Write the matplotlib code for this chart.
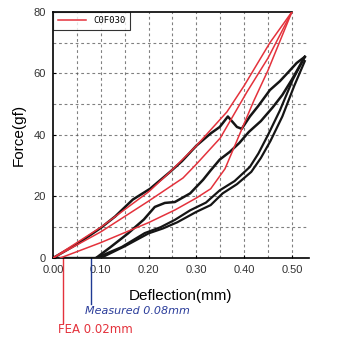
import matplotlib
matplotlib.use('Agg')
import matplotlib.pyplot as plt

plt.rcParams['font.family'] = ['Liberation Sans', 'DejaVu Sans']

# FEA 결과 (빨간선) : 변위(mm), 하중(gf)
fea_upper_x = [0.0, 0.10, 0.20, 0.245, 0.30, 0.364, 0.40, 0.454, 0.50]
fea_upper_y = [0.0, 10.0, 21.5, 28.0, 36.5, 47.5, 56.0, 70.0, 80.0]
fea_mid_x = [0.0, 0.10, 0.20, 0.272, 0.30, 0.35, 0.406, 0.45, 0.50]
fea_mid_y = [0.0, 8.5, 18.5, 26.0, 30.5, 39.0, 54.0, 65.0, 80.0]
fea_low_x = [0.015, 0.10, 0.20, 0.255, 0.30, 0.33, 0.36, 0.39, 0.42, 0.45, 0.50]
fea_low_y = [0.0, 5.0, 11.5, 15.6, 19.5, 22.5, 29.0, 40.0, 51.0, 61.0, 80.0]

# 측정 결과 (검은선)
base_x = [0.0, 0.09]
base_y = [0.0, 0.0]
meas_load_x = [0.0, 0.05, 0.10, 0.13, 0.167, 0.203, 0.245, 0.27, 0.30, 0.33, 0.349,
               0.366, 0.385, 0.395, 0.412, 0.43, 0.454, 0.475, 0.496, 0.51, 0.527]
meas_load_y = [0.0, 4.5, 9.8, 13.5, 19.0, 22.5, 28.0, 31.5, 36.5, 40.5, 42.6,
               46.0, 42.6, 42.0, 46.0, 49.5, 54.6, 57.5, 61.0, 63.4, 65.4]
meas_mid_x = [0.09, 0.12, 0.157, 0.19, 0.213, 0.234, 0.255, 0.287, 0.314, 0.33,
              0.349, 0.37, 0.39, 0.41, 0.435, 0.46, 0.48, 0.50, 0.527]
meas_mid_y = [0.0, 3.5, 8.0, 12.5, 16.6, 17.9, 18.2, 21.0, 25.4, 28.5,
              32.0, 34.5, 37.4, 41.0, 44.5, 49.0, 53.0, 58.0, 65.4]
meas_low_x = [0.09, 0.144, 0.192, 0.225, 0.255, 0.287, 0.32, 0.349, 0.38, 0.412,
              0.43, 0.45, 0.475, 0.502, 0.527]
meas_low_y = [0.0, 3.6, 8.1, 10.0, 12.4, 15.5, 18.0, 22.0, 25.0, 29.6,
              34.0, 40.0, 48.0, 58.0, 65.4]
meas_low2_x = [0.10, 0.15, 0.20, 0.23, 0.26, 0.30, 0.33, 0.355, 0.385, 0.415,
               0.435, 0.455, 0.48, 0.505, 0.527]
meas_low2_y = [0.0, 3.8, 8.0, 9.6, 11.6, 15.0, 17.2, 21.0, 24.0, 28.0,
               32.5, 38.0, 46.0, 56.0, 64.0]

xticks = [0.0, 0.1, 0.2, 0.3, 0.4, 0.5]
yticks = [0, 20, 40, 60, 80]

red = '#e4323c'
black = '#151515'

fig = plt.figure(figsize=(3.38, 3.51), dpi=100)
ax = fig.add_axes([0.157, 0.265, 0.756, 0.701])

# 격자 (0.05mm, 10gf 간격 점선)
for gx in [0.05 * i for i in range(1, 11)]:
    ax.axvline(gx, color='#555555', lw=0.8, ls=(0, (2.5, 2.5)), alpha=0.75, zorder=1)
for gy in range(10, 80, 10):
    ax.axhline(gy, color='#555555', lw=0.8, ls=(0, (2.5, 2.5)), alpha=0.75, zorder=1)

ax.plot(base_x, base_y, color=black, lw=2.4, zorder=3)
ax.plot(meas_load_x, meas_load_y, color=black, lw=1.8, zorder=3)
ax.plot(meas_mid_x, meas_mid_y, color=black, lw=1.8, zorder=3)
ax.plot(meas_low_x, meas_low_y, color=black, lw=1.6, zorder=3)
ax.plot(meas_low2_x, meas_low2_y, color=black, lw=1.6, zorder=3)

ax.plot(fea_upper_x, fea_upper_y, color=red, lw=1.1, zorder=4, label='C0F030')
ax.plot(fea_mid_x, fea_mid_y, color=red, lw=1.1, zorder=4)
ax.plot(fea_low_x, fea_low_y, color=red, lw=1.1, zorder=4)

ax.set_xlim(0, 0.535)
ax.set_ylim(0, 80)
ax.set_xticks(xticks)
ax.set_xticklabels([f'{t:.2f}' for t in xticks])
ax.set_yticks(yticks)
ax.tick_params(labelsize=8, labelcolor='#333333', length=2, direction='in', pad=5)
ax.spines['right'].set_visible(False)
ax.spines['top'].set_bounds(0, 0.5)
for s in ['left', 'bottom', 'top']:
    ax.spines[s].set_linewidth(1.2)
ax.set_xlabel('Deflection(mm)', fontsize=11, labelpad=10)
ax.set_ylabel('Force(gf)', fontsize=11, labelpad=6)

leg = ax.legend(loc='upper left', borderaxespad=0, fancybox=False,
                handlelength=3.2, borderpad=0.5,
                prop={'family': 'DejaVu Sans Mono', 'size': 6.5})
leg.get_frame().set_edgecolor('black')
leg.get_frame().set_linewidth(0.8)

# 시작 변위 표시
ax.plot([0.02, 0.02], [0, -21], color=red, lw=1.0, clip_on=False)
ax.plot([0.08, 0.08], [0, -15], color='#1f3a93', lw=1.0, clip_on=False)
ax.text(0.067, -17.2, 'Measured 0.08mm', color='#2a3c9a', fontsize=8,
        family='DejaVu Sans', style='italic', va='center', clip_on=False)
ax.text(0.01, -23.4, 'FEA 0.02mm', color=red, fontsize=8.5,
        family='DejaVu Sans', va='center', clip_on=False)

fig.savefig('out.png', dpi=100)
